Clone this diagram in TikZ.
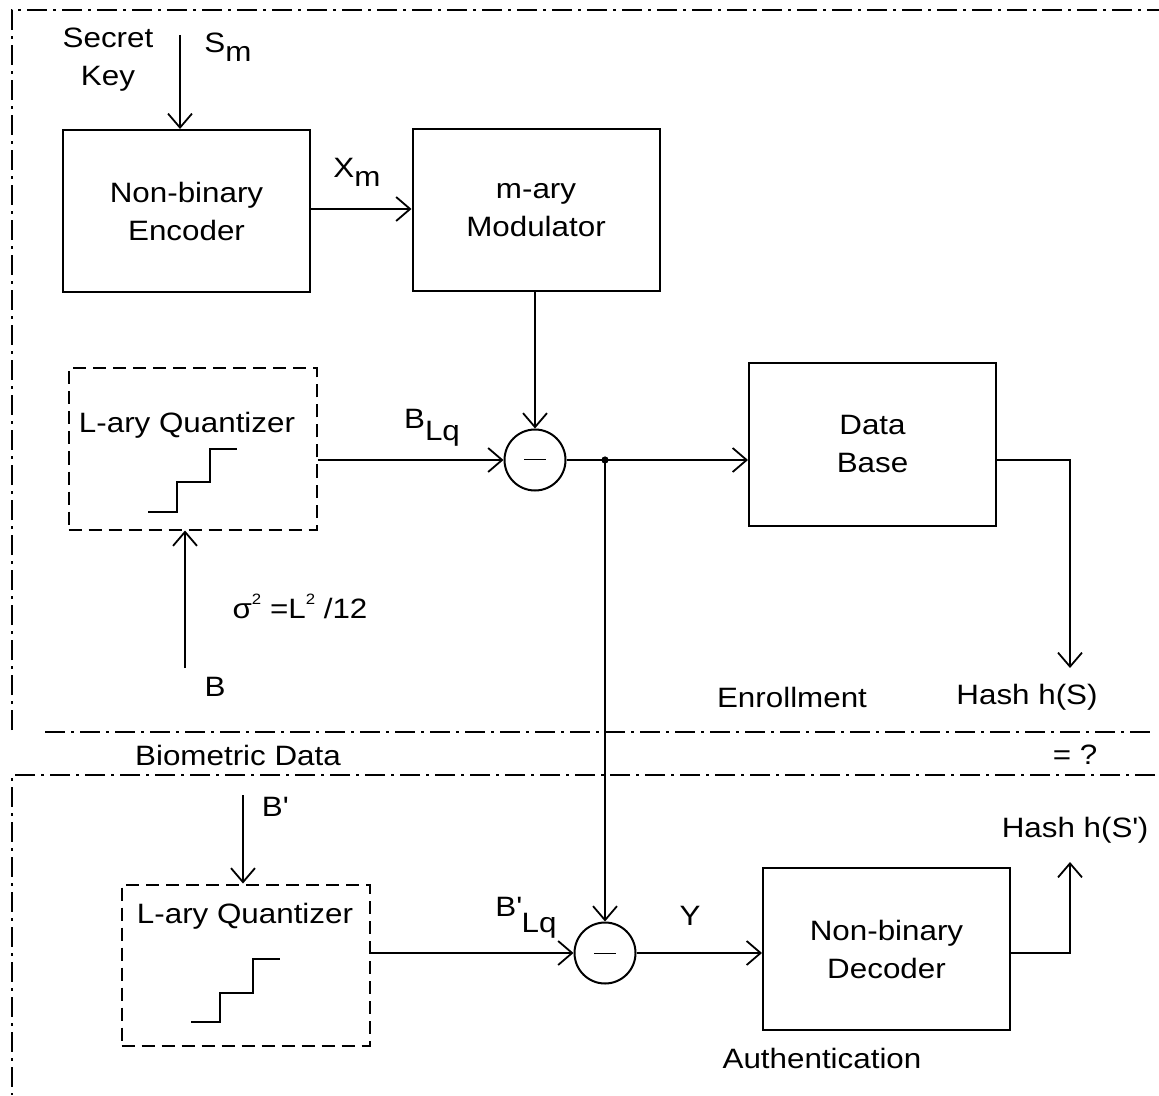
\documentclass[tikz,border=0pt]{standalone}
\usepackage{fontspec}
\setmainfont[FakeStretch=1.12]{Liberation Sans}
\usetikzlibrary{arrows.meta}
\newcommand{\apos}{\textquotesingle}
\begin{document}
\begin{tikzpicture}[x=0.5pt,y=-0.5pt,
  every node/.style={font=\fontsize{14}{19}\selectfont, inner sep=0pt},
  box/.style={draw, line width=1pt, minimum width=123.5pt, minimum height=81pt, align=center},
  qbox/.style={draw, line width=1pt, dash pattern=on 6.5pt off 3.5pt, minimum width=124pt, minimum height=80.5pt},
  sum/.style={draw, circle, line width=1pt, minimum size=30.5pt},
  wire/.style={line width=0.9pt},
  arr/.style={wire, -{Straight Barb[length=7pt,width=12pt]}},
  frame/.style={line width=0.8pt, dash pattern=on 10pt off 3pt on 1.5pt off 3pt},
  stair/.style={line width=0.6pt}
]
\useasboundingbox (0,0) rectangle (1159,1095);

% frame lines
\draw[frame] (12,730) -- (12,10) -- (1159,10);
\draw[frame] (45,732) -- (1155,732);
\draw[frame] (1155,775) -- (12,775) -- (12,1095);

% blocks
\node[box] (enc) at (186.5,211) {Non-binary\\Encoder};
\node[box] (mod) at (536,210.5) {m-ary\\Modulator};
\node[box] (db) at (872.5,444.5) {Data\\Base};
\node[box] (dec) at (886.5,949) {Non-binary\\Decoder};

\node[qbox] (q1) at (192.5,449) {};
\node (q1t) at (187,425) {L-ary Quantizer};
\node[qbox] (q2) at (245.5,965) {};
\node (q2t) at (245,916) {L-ary Quantizer};

\draw[stair] (148,512) -- (177,512) -- (177,482) -- (210,482) -- (210,449) -- (237,449);
\draw[stair] (191,1022) -- (220,1022) -- (220,993) -- (253,993) -- (253,959) -- (280,959);

\node[sum] (s1) at (535,460) {};
\node[sum] (s2) at (605,953) {};
\draw[line width=0.5pt] ([xshift=-5.5pt]s1.center) -- ([xshift=5.5pt]s1.center);
\draw[line width=0.5pt] ([xshift=-5.5pt]s2.center) -- ([xshift=5.5pt]s2.center);

\coordinate (dot) at (605,460);
\fill (dot) circle[radius=1.8pt];

\coordinate (keytop) at (180,35);
\coordinate (bin) at (185,668);
\coordinate (bpin) at (243,795);
\coordinate (hs) at (1070,668);
\coordinate (hsp) at (1070,862);

% connectors
\draw[arr] (keytop) -- (keytop |- enc.north);
\draw[arr] (enc.east |- 0,209) -- (mod.west |- 0,209);
\draw[arr] (mod.south -| s1.north) -- (s1.north);
\draw[arr] (q1.east |- s1.west) -- (s1.west);
\draw[wire] (s1.east) -- (dot);
\draw[arr] (dot) -- (dot -| db.west);
\draw[arr] (db.east |- dot) -- (hs |- dot) -- (hs);
\draw[arr] (bin) -- (bin |- q1.south);
\draw[arr] (dot) -- (s2.north);
\draw[arr] (bpin) -- (bpin |- q2.north);
\draw[arr] (q2.east |- s2.west) -- (s2.west);
\draw[arr] (s2.east) -- (s2.east -| dec.west);
\draw[arr] (dec.east |- s2.east) -- (hsp |- s2.east) -- (hsp);

% labels
\node[align=center] (key) at (108,60) {Secret\\Key};
\node (sm) at (228,47) {S\raisebox{-4.5pt}{m}};
\node (xm) at (357,172) {X\raisebox{-4.5pt}{m}};
\node (blq) at (432,428) {B\raisebox{-6pt}{Lq}};
\node (bplq) at (526,918) {B\apos\raisebox{-8pt}{Lq}};
\node (sig) at (300,606) {σ\raisebox{7pt}{\fontsize{7.5}{8}\selectfont 2} =L\raisebox{7pt}{\fontsize{7.5}{8}\selectfont 2} /12};
\node (b) at (215,687) {B};
\node (bp) at (275,807) {B\apos};
\node (y) at (690,916) {Y};
\node (enr) at (792,697) {Enrollment};
\node (hsl) at (1027,697) {Hash h(S)};
\node (bio) at (238,755) {Biometric Data};
\node (eq) at (1075,755) {= ?};
\node (hspl) at (1075,830) {Hash h(S\apos)};
\node (auth) at (822,1058) {Authentication};
\end{tikzpicture}
\end{document}
